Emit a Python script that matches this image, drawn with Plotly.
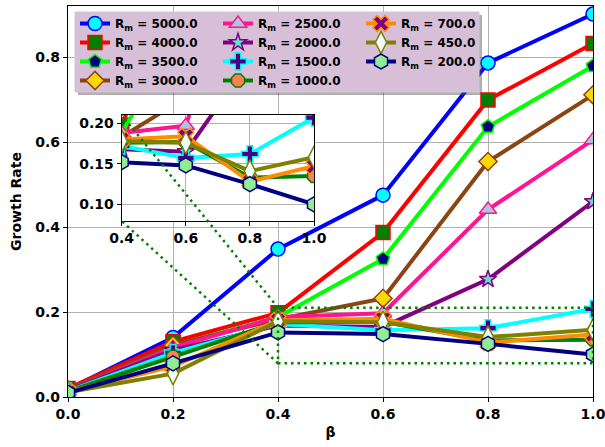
import plotly.graph_objects as go

# ---- data -----------------------------------------------------------------
beta = [0.0, 0.2, 0.4, 0.6, 0.8, 1.0]

rm_values = ["5000.0", "4000.0", "3500.0", "3000.0", "2500.0", "2000.0",
             "1500.0", "1000.0", "700.0", "450.0", "200.0"]

growth_5000 = [0.018, 0.140, 0.348, 0.475, 0.786, 0.901]
growth_4000 = [0.020, 0.130, 0.198, 0.387, 0.699, 0.832]
growth_3500 = [0.016, 0.120, 0.188, 0.325, 0.636, 0.779]
growth_3000 = [0.016, 0.122, 0.183, 0.232, 0.554, 0.711]
growth_2500 = [0.015, 0.116, 0.188, 0.197, 0.441, 0.605]
growth_2000 = [0.015, 0.110, 0.168, 0.165, 0.277, 0.460]
growth_1500 = [0.014, 0.104, 0.172, 0.157, 0.162, 0.207]
growth_1000 = [0.013, 0.095, 0.176, 0.177, 0.133, 0.135]
growth_700 = [0.012, 0.072, 0.180, 0.184, 0.128, 0.147]
growth_450 = [0.011, 0.055, 0.178, 0.176, 0.141, 0.158]
growth_200 = [0.010, 0.079, 0.152, 0.148, 0.125, 0.100]

series = [growth_5000, growth_4000, growth_3500, growth_3000, growth_2500,
          growth_2000, growth_1500, growth_1000, growth_700, growth_450,
          growth_200]

main_xticks = [0.0, 0.2, 0.4, 0.6, 0.8, 1.0]
main_yticks = [0.0, 0.2, 0.4, 0.6, 0.8]
inset_xticks = [0.4, 0.6, 0.8, 1.0]
inset_yticks = [0.10, 0.15, 0.20]

main_yrange = [0.0, 0.92]
zoom_xrange = [0.4, 1.0]
zoom_yrange = [0.0794, 0.2102]

# ---- styles (line colour, marker symbol, marker fill) ---------------------
line_colors = ["blue", "red", "lime", "#8B4513", "deeppink", "purple",
               "cyan", "green", "darkorange", "olive", "navy"]
symbols = ["circle", "square", "pentagon", "diamond", "triangle-up", "star",
           "cross", "octagon", "x", "diamond-tall", "hexagon"]
fills = ["cyan", "green", "navy", "gold", "lightsteelblue", "#66e0d0",
         "indigo", "coral", "purple", "azure", "lightgreen"]
sizes = [14, 14, 14, 14, 15, 13, 14, 14, 14, 16, 15]

# legend laid out in three columns, filled column by column
legend_rank = [1, 4, 7, 10, 2, 5, 8, 11, 3, 6, 9]

FONT = "DejaVu Sans"

fig = go.Figure()


def trace_style(i):
    return dict(
        mode="lines+markers",
        line=dict(color=line_colors[i], width=4),
        marker=dict(symbol=symbols[i], size=sizes[i], color=fills[i],
                    line=dict(color=line_colors[i], width=1.5)),
    )


for i, ys in enumerate(series):
    fig.add_trace(go.Scatter(
        x=beta, y=ys, name="<b>R<sub>m</sub> = " + rm_values[i] + "</b>",
        legendrank=legend_rank[i], xaxis="x", yaxis="y", **trace_style(i)))

for i, ys in enumerate(series):
    fig.add_trace(go.Scatter(x=beta, y=ys, showlegend=False,
                             xaxis="x2", yaxis="y2", **trace_style(i)))

# ---- layout -----------------------------------------------------------------
W, H = 605, 447
ML, MR, MT, MB = 68, 12, 6, 50
PW, PH = W - ML - MR, H - MT - MB


def px_x(p):
    return (p - ML) / PW


def px_y(p):
    return (H - MB - p) / PH


inset_dom_x = [px_x(121.7), px_x(314)]
inset_dom_y = [px_y(221), px_y(115)]

tick_font = dict(family=FONT, size=14, color="black", weight="bold")
axis_common = dict(
    showline=True, linecolor="black", linewidth=1.2, mirror=True,
    ticks="outside", ticklen=4, tickwidth=1, tickcolor="black",
    showgrid=True, gridcolor="#b0b0b0", gridwidth=1, zeroline=False,
    tickfont=tick_font, automargin=False, ticklabeloverflow="allow",
)

fig.update_layout(
    width=W, height=H,
    margin=dict(l=ML, r=MR, t=MT, b=MB, pad=0, autoexpand=False),
    paper_bgcolor="white", plot_bgcolor="white",
    font=dict(family=FONT, color="black"),
    xaxis=dict(domain=[0, 1], range=[0, 1], tickvals=main_xticks,
               tickformat=".1f", anchor="y",
               title=dict(text="β", font=dict(family=FONT, size=14, weight="bold"),
                          standoff=6),
               **axis_common),
    yaxis=dict(domain=[0, 1], range=main_yrange, tickvals=main_yticks,
               tickformat=".1f", anchor="x",
               title=dict(text="Growth Rate",
                          font=dict(family=FONT, size=14, weight="bold"),
                          standoff=10),
               **axis_common),
    xaxis2=dict(domain=inset_dom_x, range=zoom_xrange, tickvals=inset_xticks,
                tickformat=".1f", anchor="y2", **axis_common),
    yaxis2=dict(domain=inset_dom_y, range=zoom_yrange, tickvals=inset_yticks,
                tickformat=".2f", anchor="x2", **axis_common),
    legend=dict(
        orientation="h", x=px_x(75), y=px_y(9), xanchor="left", yanchor="top",
        bgcolor="rgba(0,0,0,0)", borderwidth=0,
        font=dict(family=FONT, size=12, color="black"),
        entrywidth=98, entrywidthmode="pixels", itemwidth=30,
        tracegroupgap=0, traceorder="normal",
    ),
    showlegend=True,
)

shapes = []
# opaque background of the zoomed panel
shapes.append(dict(type="rect", xref="x2", yref="y2",
                   x0=zoom_xrange[0], x1=zoom_xrange[1],
                   y0=zoom_yrange[0], y1=zoom_yrange[1],
                   fillcolor="white", line=dict(width=0), layer="below"))

dot = dict(color="green", width=2.5, dash="2.5px,4px")
# zoom region marker on the main axes
shapes.append(dict(type="rect", xref="x", yref="y",
                   x0=zoom_xrange[0], x1=zoom_xrange[1],
                   y0=zoom_yrange[0], y1=zoom_yrange[1],
                   line=dot, fillcolor="rgba(0,0,0,0)", layer="above"))
# connectors from the zoom region to the panel corners
rx = zoom_xrange[0]
for yv, iy in [(zoom_yrange[1], inset_dom_y[1]), (zoom_yrange[0], inset_dom_y[0])]:
    shapes.append(dict(type="line", xref="paper", yref="paper",
                       x0=rx, y0=yv / main_yrange[1],
                       x1=inset_dom_x[0], y1=iy,
                       line=dot, layer="above"))

# legend frame with drop shadow
lx0, lx1, ly0, ly1 = 75, 479, 12, 92
shapes.append(dict(type="rect", xref="paper", yref="paper",
                   x0=px_x(lx0 + 3), x1=px_x(lx1 + 3),
                   y0=px_y(ly1 + 3), y1=px_y(ly0 + 3),
                   fillcolor="rgba(80,80,80,0.45)", line=dict(width=0),
                   layer="above"))
shapes.append(dict(type="rect", xref="paper", yref="paper",
                   x0=px_x(lx0), x1=px_x(lx1), y0=px_y(ly1), y1=px_y(ly0),
                   fillcolor="rgb(216,191,216)",
                   line=dict(color="#cccccc", width=1), layer="above"))

fig.update_layout(shapes=shapes)

fig.write_html("out.html")
